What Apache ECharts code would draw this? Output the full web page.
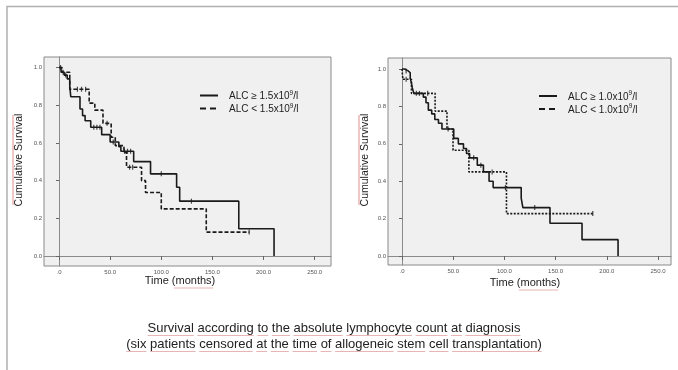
<!DOCTYPE html>
<html>
<head>
<meta charset="utf-8">
<script src="https://cdn.jsdelivr.net/npm/echarts@6/dist/echarts.min.js"></script>
<style>
html,body{margin:0;padding:0;background:#fff}
#c{width:678px;height:370px}
</style>
</head>
<body>
<div id="c"></div>
<script>
// Axis ticks shared by both panels
const xTicks = [0, 50, 100, 150, 200, 250];
const xTickLabels = ['.0', '50.0', '100.0', '150.0', '200.0', '250.0'];
const yTicks = [0, 0.2, 0.4, 0.6, 0.8, 1.0];
const yTickLabels = ['0.0', '0.2', '0.4', '0.6', '0.8', '1.0'];

// Left panel: cut-off 1.5x10^9/l  (Kaplan-Meier steps: time of event, survival after it)
const hi15Label = ['ALC \u2265 1.5x10', '9', '/l'];
const hi15Time = [0, 2, 5, 8, 10.5, 11.5, 20.5, 23, 25.5, 31, 41.7, 50, 58.5, 60.5, 73, 89.5, 115, 118, 175.8, 210.3];
const hi15Surv = [1, 0.975, 0.96, 0.94, 0.90, 0.845, 0.78, 0.745, 0.718, 0.683, 0.644, 0.605, 0.58, 0.556, 0.501, 0.436, 0.365, 0.291, 0.145, 0];
const hi15Cens = [1.5, 4, 6.5, 34, 37, 40, 53, 64, 67, 70, 100, 129.5];

const lo15Label = ['ALC < 1.5x10', '9', '/l'];
const lo15Time = [0, 3, 10.5, 29.5, 35, 43, 51, 55, 63.5, 66, 80.7, 84.6, 100, 144, 186];
const lo15Surv = [1, 0.975, 0.885, 0.811, 0.774, 0.704, 0.63, 0.586, 0.55, 0.471, 0.40, 0.337, 0.25, 0.127, 0.127];
const lo15Cens = [18, 22, 26, 47, 69, 72, 186];

// Right panel: cut-off 1.0x10^9/l
const hi10Label = ['ALC \u2265 1.0x10', '9', '/l'];
const hi10Time = [0, 2.5, 6, 8, 9, 10, 11.5, 20.8, 23.4, 25.7, 29, 32, 35.6, 39, 50.5, 55, 60, 63, 66, 73.5, 79.5, 85, 89, 116.4, 118, 144.5, 175.8, 211];
const hi10Surv = [1, 0.99, 0.98, 0.95, 0.93, 0.90, 0.87, 0.85, 0.82, 0.78, 0.76, 0.73, 0.71, 0.679, 0.629, 0.60, 0.575, 0.548, 0.525, 0.486, 0.45, 0.40, 0.366, 0.31, 0.259, 0.175, 0.0875, 0];
const hi10Cens = [4, 14, 17, 45, 70, 77, 101, 129.6];

const lo10Label = ['ALC < 1.0x10', '9', '/l'];
const lo10Time = [0, 0.8, 9.2, 32.3, 43.9, 49.8, 65.3, 102, 186.3];
const lo10Surv = [1, 0.945, 0.87, 0.775, 0.679, 0.566, 0.45, 0.227, 0.227];
const lo10Cens = [4, 25, 88, 186.3];

const captionLines = [
  'Survival according to the absolute lymphocyte count at diagnosis',
  '(six patients censored at the time of allogeneic stem cell transplantation)'
];
const yTitle = ['Cumulative', 'Survival'];
const xTitle = ['Time', '(months)'];

const FONT = '"Liberation Sans", Arial, sans-serif';
const INK = '#1a1a1a';
const PINK = '#eab4b4';
const LEFT_DASH = [4, 2];
const RIGHT_DASH = [2, 1.5];

function survAt(times, surv, t) {
  let s = surv[0];
  for (let i = 0; i < times.length; i++) { if (times[i] <= t) s = surv[i]; }
  return s;
}

function kmSeries(name, times, surv, idx, dash) {
  return {
    name: name, type: 'line', step: 'end', xAxisIndex: idx, yAxisIndex: idx,
    data: times.map((t, i) => [t, surv[i]]),
    symbol: 'none', showSymbol: false, color: INK,
    lineStyle: { color: INK, width: 1.6, type: dash },
    z: 3
  };
}
function censorSeries(times, surv, cens, idx) {
  return {
    type: 'scatter', xAxisIndex: idx, yAxisIndex: idx,
    data: cens.map(t => [t, survAt(times, surv, t)]),
    symbol: 'rect', symbolSize: [1.2, 5],
    itemStyle: { color: INK }, silent: true, z: 4
  };
}

function xAxisFor(idx, min, max) {
  return {
    type: 'value', gridIndex: idx, min: min, max: max,
    axisLine: { show: true, lineStyle: { color: '#8a8a8a', width: 1 } },
    axisTick: { show: true, customValues: xTicks, length: 4, lineStyle: { color: '#666' } },
    axisLabel: { customValues: xTicks, fontSize: 6, color: '#555', fontFamily: FONT, margin: 3,
      formatter: v => xTickLabels[xTicks.indexOf(v)] },
    splitLine: { show: false }
  };
}
function yAxisFor(idx, min, max) {
  return {
    type: 'value', gridIndex: idx, min: min, max: max,
    axisLine: { show: true, lineStyle: { color: '#8a8a8a', width: 1 } },
    axisTick: { show: true, customValues: yTicks, length: 3, lineStyle: { color: '#666' } },
    axisLabel: { customValues: yTicks, fontSize: 6, color: '#555', fontFamily: FONT, margin: 2,
      formatter: v => yTickLabels[yTicks.indexOf(v)] },
    splitLine: { show: false }
  };
}

// text measurement for spell-check style underlines
const mctx = document.createElement('canvas').getContext('2d');
function wordUnderlines(text, font, cx, y) {
  mctx.font = font;
  const total = mctx.measureText(text).width;
  const x0 = cx - total / 2;
  const out = [];
  let pos = 0;
  text.split(' ').forEach(w => {
    const sx = x0 + mctx.measureText(text.slice(0, pos)).width;
    const ww = mctx.measureText(w).width;
    out.push({ type: 'line', silent: true,
      shape: { x1: sx, y1: y, x2: sx + ww, y2: y },
      style: { stroke: PINK, lineWidth: 1 } });
    pos += w.length + 1;
  });
  return out;
}

const graphics = [];
// page frame
graphics.push({ type: 'polyline', silent: true,
  shape: { points: [[7, 370], [7, 6.5], [678, 6.5]] },
  style: { stroke: '#b0b0b0', lineWidth: 1.5, fill: null } });

// axis titles for both panels
[[19, 160], [365, 160]].forEach(p => {
  graphics.push({ type: 'line', silent: true,
    shape: { x1: p[0] - 6, y1: p[1] - 45, x2: p[0] - 6, y2: p[1] + 45 },
    style: { stroke: PINK, lineWidth: 1.5 } });
  graphics.push({ type: 'text', x: p[0], y: p[1], rotation: Math.PI / 2, silent: true,
    style: { text: yTitle.join(' '), font: '10.5px ' + FONT, fill: '#222',
      textAlign: 'center', textVerticalAlign: 'middle' } });
});
[[180, 281], [525, 283]].forEach(p => {
  graphics.push({ type: 'text', x: p[0], y: p[1], silent: true,
    style: { text: xTitle.join(' '), font: '11px ' + FONT, fill: '#222',
      textAlign: 'center', textVerticalAlign: 'middle' } });
  mctx.font = '11px ' + FONT;
  const tw = mctx.measureText(xTitle.join(' ')).width;
  const mw = mctx.measureText(xTitle[1]).width;
  const sx = p[0] + tw / 2 - mw + 2;
  graphics.push({ type: 'line', silent: true,
    shape: { x1: sx, y1: p[1] + 7, x2: p[0] + tw / 2 - 2, y2: p[1] + 7 },
    style: { stroke: PINK, lineWidth: 1.2 } });
});

// legends: line sample + label with superscript exponent
function legendItem(x1, x2, tx, y, dash, parts) {
  graphics.push({ type: 'line', silent: true,
    shape: { x1: x1, y1: y, x2: x2, y2: y },
    style: { stroke: INK, lineWidth: 2, lineDash: dash } });
  graphics.push({ type: 'text', x: tx, y: y, silent: true,
    style: {
      text: '{n|' + parts[0] + '}{s|' + parts[1] + '}{n|' + parts[2] + '}',
      textVerticalAlign: 'middle', textAlign: 'left',
      rich: {
        n: { fontSize: 10, fontFamily: FONT, fill: '#222', lineHeight: 12, verticalAlign: 'bottom' },
        s: { fontSize: 6.5, fontFamily: FONT, fill: '#222', lineHeight: 12, verticalAlign: 'top' }
      }
    } });
}
legendItem(200, 218, 229, 95.5, null, hi15Label);
legendItem(200, 218, 229, 108.5, [6, 4], lo15Label);
legendItem(539, 557, 568, 96, null, hi10Label);
legendItem(539, 557, 568, 109, [6, 4], lo10Label);

// caption
const capFont = '13px ' + FONT;
[[334, 328], [334, 344]].forEach((p, i) => {
  wordUnderlines(captionLines[i], capFont, p[0], p[1] + 7.5).forEach(g => graphics.push(g));
  graphics.push({ type: 'text', x: p[0], y: p[1], silent: true,
    style: { text: captionLines[i], font: capFont, fill: '#222',
      textAlign: 'center', textVerticalAlign: 'middle' } });
});

const option = {
  animation: false,
  backgroundColor: '#ffffff',
  grid: [
    { left: 44, top: 57, width: 287, height: 209, show: true,
      backgroundColor: '#f0f0f0', borderColor: '#8a8a8a', borderWidth: 1 },
    { left: 388, top: 58, width: 283, height: 207, show: true,
      backgroundColor: '#f0f0f0', borderColor: '#8a8a8a', borderWidth: 1 }
  ],
  xAxis: [xAxisFor(0, -14.7, 266), xAxisFor(1, -13.7, 262.7)],
  yAxis: [yAxisFor(0, -0.053, 1.056), yAxisFor(1, -0.048, 1.059)],
  series: [
    kmSeries(hi15Label.join(''), hi15Time, hi15Surv, 0, 'solid'),
    kmSeries(lo15Label.join(''), lo15Time, lo15Surv, 0, LEFT_DASH),
    censorSeries(hi15Time, hi15Surv, hi15Cens, 0),
    censorSeries(lo15Time, lo15Surv, lo15Cens, 0),
    kmSeries(hi10Label.join(''), hi10Time, hi10Surv, 1, 'solid'),
    kmSeries(lo10Label.join(''), lo10Time, lo10Surv, 1, RIGHT_DASH),
    censorSeries(hi10Time, hi10Surv, hi10Cens, 1),
    censorSeries(lo10Time, lo10Surv, lo10Cens, 1)
  ],
  graphic: graphics
};

const chart = echarts.init(document.getElementById('c'), null, { renderer: 'canvas' });
chart.setOption(option);
</script>
</body>
</html>
